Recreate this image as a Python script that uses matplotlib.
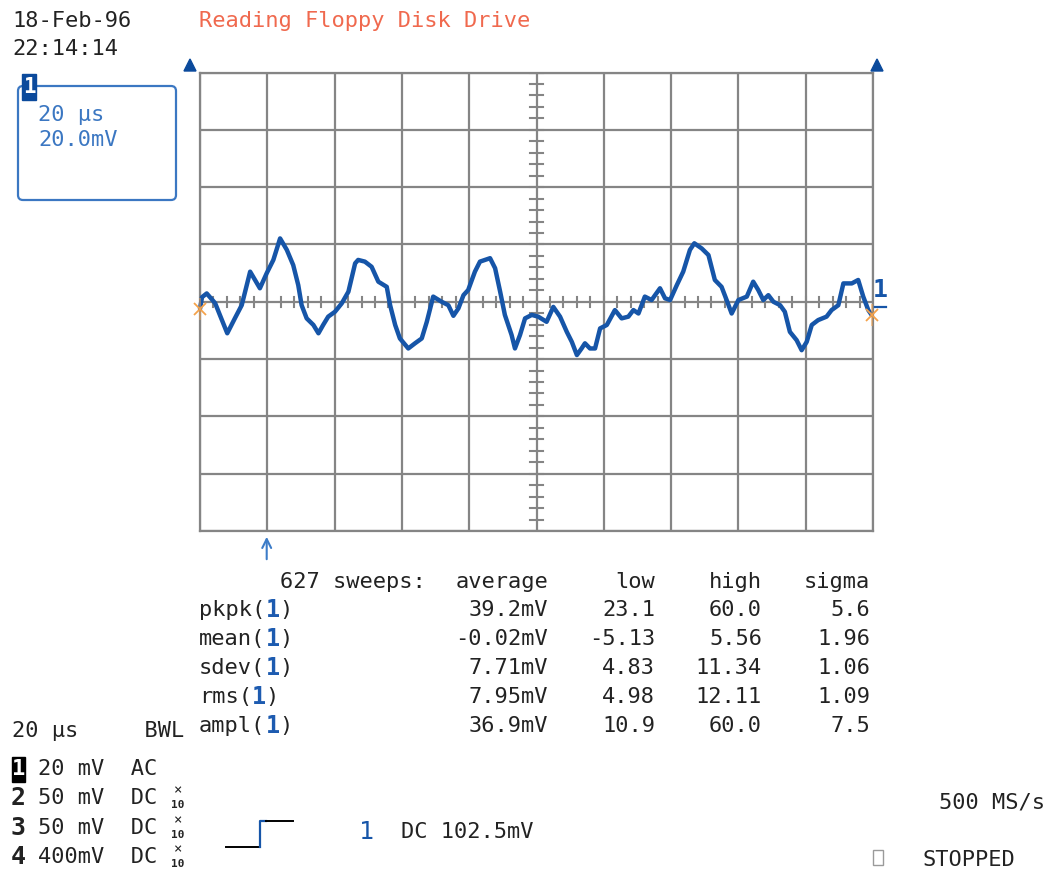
import matplotlib
matplotlib.use("Agg")
import matplotlib.pyplot as plt
from matplotlib.patches import FancyBboxPatch, Rectangle, Polygon

# ---- acquisition record -------------------------------------------------
date_str = "18-Feb-96"
time_str = "22:14:14"
title_str = "Reading Floppy Disk Drive"

# channel 1 trace: time in microseconds (trigger at 0), voltage in mV
time_us = [-20.0, -19.4, -18.0, -15.5, -14.1, -11.9, -9.6, -7.6, -5.1, -2.2,
           -0.2, 1.8, 3.8, 5.8, 7.7, 9.2, 10.2, 11.7, 13.7, 15.2, 16.6, 18.1,
           20.1, 22.1, 24.1, 26.1, 27.0, 29.0, 31.0, 33.0, 35.5, 36.5, 38.0,
           39.4, 41.9, 43.9, 45.9, 47.4, 49.3, 51.8, 53.8, 55.3, 56.8, 58.3,
           59.7, 61.7, 63.2, 66.2, 67.7, 69.2, 70.6, 72.6, 73.6, 75.1, 76.6,
           78.6, 80.5, 83.0, 85.0, 87.0, 89.0, 90.5, 92.0, 93.4, 94.4, 95.9,
           97.4, 98.9, 100.9, 103.3, 105.3, 107.3, 108.8, 110.3, 112.2, 114.2,
           116.7, 118.2, 119.7, 121.7, 123.6, 125.6, 126.9, 129.1, 131.1, 133.0,
           135.0, 136.5, 138.0, 140.0, 142.5, 144.4, 145.9, 147.4, 148.9, 150.4,
           152.4, 153.8, 155.3, 157.3, 158.8, 160.3, 161.8, 163.7, 166.2, 167.7,
           169.7, 171.2, 173.7, 175.6, 177.1, 178.6, 179.6]
trace_mv = [-2.5, 1.6, 2.9, -0.5, -4.6, -11.0, -5.7, -1.2, 10.5, 4.7,
            9.9, 14.6, 22.1, 18.1, 12.8, 5.8, -1.2, -5.8, -8.1, -11.0, -8.1, -5.2,
            -3.5, -0.6, 3.5, 13.4, 14.6, 14.0, 12.2, 7.0, 5.2, -1.2, -8.1,
            -12.8, -16.3, -14.5, -12.8, -7.0, 1.8, 0.0, -1.2, -4.9, -2.3, 2.3,
            4.1, 10.5, 14.0, 15.2, 11.7, 3.5, -4.6, -11.6, -16.3, -11.6, -5.8,
            -4.6, -5.2, -7.0, -1.8, -5.2, -10.5, -14.0, -18.6, -16.3, -14.5, -16.3,
            -16.3, -9.3, -8.1, -2.9, -5.8, -5.2, -2.9, -4.1, 1.8, 0.6,
            4.7, 1.2, 0.6, 5.8, 10.5, 18.1, 20.4, 18.6, 16.3, 7.6,
            5.2, 0.6, -4.1, 0.6, 1.8, 7.0, 4.1, 0.6, 2.3, 0.0,
            -1.2, -3.5, -10.5, -13.4, -16.9, -14.0, -8.1, -6.4, -5.2, -2.9,
            -1.2, 6.4, 6.4, 7.6, 1.8, -2.9, -4.6]

# statistics table
stat_header = ["average", "low", "high", "sigma"]
stat_names = ["pkpk", "mean", "sdev", "rms", "ampl"]
stat_average = ["39.2mV", "-0.02mV", "7.71mV", "7.95mV", "36.9mV"]
stat_low = ["23.1", "-5.13", "4.83", "4.98", "10.9"]
stat_high = ["60.0", "5.56", "11.34", "12.11", "60.0"]
stat_sigma = ["5.6", "1.96", "1.06", "1.09", "7.5"]
sweeps = 627

# channel setup
ch_ids = ["1", "2", "3", "4"]
ch_scale = ["20 mV", "50 mV", "50 mV", "400mV"]
ch_coupling = ["AC", "DC", "DC", "DC"]
ch_probe_x10 = [False, True, True, True]

# ---- styling ------------------------------------------------------------
W, H = 1048, 873
MONO = "DejaVu Sans Mono"
FS = 15.8
CW = 13.3                      # monospace character advance in pixels
GRID = "#858585"
TRACE = "#1655a8"
BLUE_TXT = "#3b77c2"
DARK_BLUE = "#0b4a9c"
RED_TXT = "#f0694e"
ORANGE = "#f5a24a"
INK = "#222222"

fig = plt.figure(figsize=(W / 100, H / 100), dpi=100)
fig.patch.set_facecolor("white")

def fx(x):
    return x / W

def fy(y):
    return 1 - y / H

# ---- graticule + waveform -----------------------------------------------
x0, x1, y0, y1 = 200, 873, 72.5, 531
ax = fig.add_axes([fx(x0), fy(y1), fx(x1) - fx(x0), fy(y0) - fy(y1)])
ax.set_xlim(-20, 180)
ax.set_ylim(-80, 80)
ax.set_xticks(range(-20, 181, 20))
ax.set_yticks(range(-80, 81, 20))
ax.tick_params(length=0, labelbottom=False, labelleft=False)
ax.grid(True, color=GRID, lw=1.6)
for s in ax.spines.values():
    s.set_color(GRID)
    s.set_linewidth(1.6)
ax.set_axisbelow(True)

# fine division marks on the centre cross
for k in range(0, 51):
    t = -20 + k * 4
    ax.plot([t, t], [-1.7, 1.7], color=GRID, lw=1.5, zorder=1)
for k in range(0, 41):
    v = -80 + k * 4
    ax.plot([78.2, 81.8], [v, v], color=GRID, lw=1.5, zorder=1)

ax.plot(time_us, trace_mv, color=TRACE, lw=3.2, solid_joinstyle="round",
        solid_capstyle="round", zorder=3, clip_on=False)

# trace end markers
for i in (0, -1):
    ax.plot(time_us[i], trace_mv[i], marker="x", ms=8, mew=1.3, color=ORANGE,
            zorder=4, clip_on=False)
    ax.plot(time_us[i], trace_mv[i], marker="|", ms=16, mew=1.2, color=ORANGE,
            alpha=0.6, zorder=4, clip_on=False)

# ---- overlay in pixel coordinates ---------------------------------------
ov = fig.add_axes([0, 0, 1, 1], zorder=5)
ov.set_xlim(0, W)
ov.set_ylim(H, 0)
ov.axis("off")

def txt(x, y, s, color=INK, ha="left", size=FS, weight="normal"):
    ov.text(x, y, s, color=color, ha=ha, va="center", fontsize=size,
            fontfamily=MONO, fontweight=weight)

txt(12, 21, date_str)
txt(12, 49, time_str)
txt(199, 21, title_str, color=RED_TXT)

# trigger-position triangles on top corners
for cx in (190, 877):
    ov.add_patch(Polygon([[cx - 6, 71], [cx + 6, 71], [cx, 59]], closed=True,
                         fc=DARK_BLUE, ec=DARK_BLUE))

# channel 1 trace marker on the right
txt(873, 290, "1", color=TRACE, size=18, weight="bold")
ov.plot([875, 886], [307, 307], color=TRACE, lw=1.6)

# trigger arrow under the graticule
ov.annotate("", xy=(266.7, 534), xytext=(266.7, 562),
            arrowprops=dict(arrowstyle="->", color="#3c7cc8", lw=1.5,
                            mutation_scale=16))

# channel info box
ov.add_patch(FancyBboxPatch((18, 86), 158, 114,
                            boxstyle="round,pad=0,rounding_size=5",
                            fc="none", ec=BLUE_TXT, lw=1.6))
ov.add_patch(Rectangle((22, 74), 14, 26, fc=DARK_BLUE, ec=DARK_BLUE))
txt(29, 87, "1", color="white", ha="center", size=15, weight="bold")
txt(38, 115, "20 µs", color=BLUE_TXT)
txt(38, 140, "20.0mV", color=BLUE_TXT)

# statistics table
txt(280, 582, f"{sweeps} sweeps:")
col_right = [548, 655, 762, 870]
for c, h in enumerate(stat_header):
    txt(col_right[c], 582, h, ha="right")
row_y = [610, 639, 668, 697, 726]
for r, name in enumerate(stat_names):
    y = row_y[r]
    txt(199, y, name + "(")
    txt(199 + CW * (len(name) + 1), y, "1", color="#1d5bb0", weight="bold",
        size=17)
    txt(199 + CW * (len(name) + 2), y, ")")
    for c, col in enumerate((stat_average, stat_low, stat_high, stat_sigma)):
        txt(col_right[c], y, col[r], ha="right")

# timebase / channel settings
txt(12, 731, "20 µs     BWL")
ch_y = [769, 798, 828, 857]
for i, cid in enumerate(ch_ids):
    y = ch_y[i]
    if i == 0:
        ov.add_patch(Rectangle((12, y - 12), 13, 25, fc="black", ec="black"))
        txt(18.5, y, cid, color="white", ha="center", weight="bold", size=16)
    else:
        txt(18.5, y, cid, ha="center", weight="bold", size=18)
    txt(38, y, f"{ch_scale[i]}  {ch_coupling[i]}")
    if ch_probe_x10[i]:
        txt(178, y - 8, "×", ha="center", size=10)
        txt(178, y + 7, "10", ha="center", size=8, weight="bold")

# trigger slope symbol and level
ov.plot([226, 260], [847, 847], color="black", lw=1.4)
ov.plot([260, 260, 266], [847, 821, 821], color=TRACE, lw=1.6)
ov.plot([266, 293], [821, 821], color="black", lw=1.4)
txt(366, 832, "1", color=TRACE, ha="center", size=18)
txt(401, 832, "DC 102.5mV")

txt(1045, 803, "500 MS/s", ha="right")
ov.add_patch(Rectangle((873, 850), 10, 15, fc="none", ec="#9a9a9a", lw=1))
txt(923, 860, "STOPPED")

fig.savefig("out.png", dpi=100, facecolor="white")
